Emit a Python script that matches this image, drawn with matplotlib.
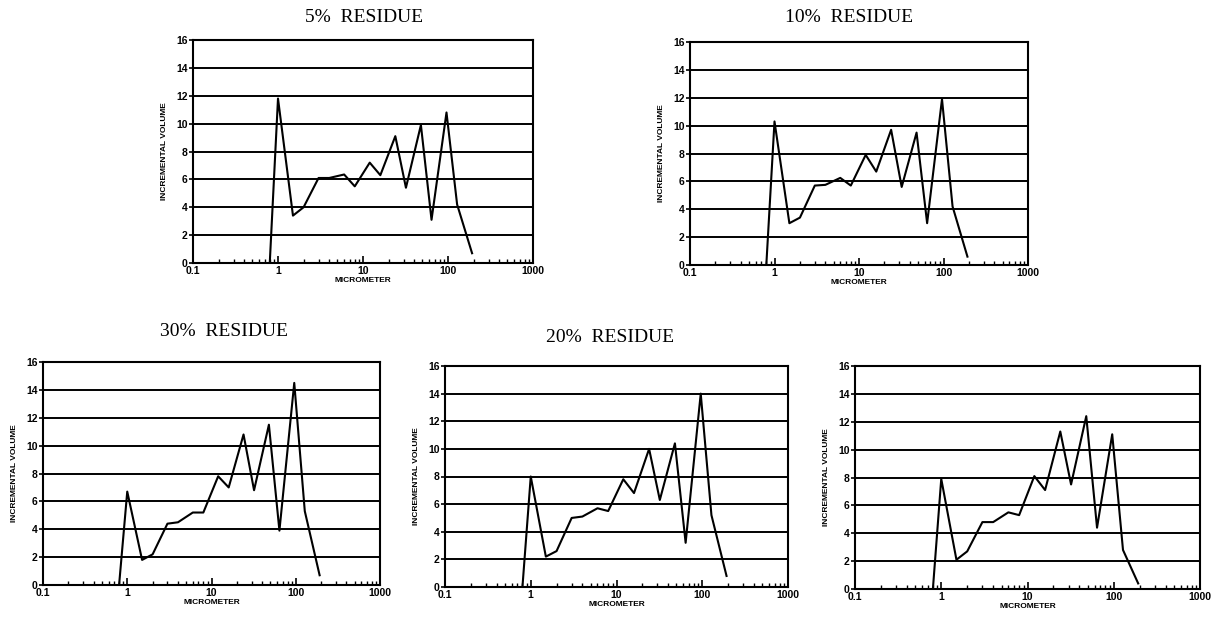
""" incremental volume vs particle size for residue fractions """

import matplotlib
matplotlib.use("Agg")
from matplotlib import pyplot as plt
from matplotlib.ticker import FixedLocator, FixedFormatter, LogLocator, NullFormatter

# particle size (micrometer)
sizes = [0.8, 1, 1.5, 2, 3, 4, 6, 8, 12, 16, 24, 32, 48, 64, 96, 128, 192]

# incremental volume per panel
residue_5 = [0, 11.8, 3.4, 4.0, 6.1, 6.1, 6.35, 5.5, 7.2, 6.3, 9.1, 5.4, 9.9, 3.1, 10.8, 4.2, 0.7]
residue_10 = [0, 10.3, 3.0, 3.4, 5.7, 5.75, 6.25, 5.7, 7.9, 6.7, 9.7, 5.6, 9.5, 3.0, 11.9, 4.2, 0.6]
residue_30 = [0, 6.7, 1.8, 2.2, 4.4, 4.5, 5.2, 5.2, 7.8, 7.0, 10.8, 6.8, 11.5, 3.9, 14.5, 5.3, 0.7]
residue_20 = [0, 8.0, 2.2, 2.6, 5.0, 5.1, 5.7, 5.5, 7.8, 6.8, 10.0, 6.3, 10.4, 3.2, 14.0, 5.2, 0.8]
residue_unlabeled = [0, 7.9, 2.1, 2.7, 4.8, 4.8, 5.5, 5.3, 8.1, 7.1, 11.3, 7.5, 12.4, 4.4, 11.1, 2.8, 0.4]

W, H = 1217, 621


def box(left, right, top, bottom):
	return [left/W, 1 - bottom/H, (right - left)/W, (bottom - top)/H]


def draw_panel(fig, rect, values):
	ax = fig.add_axes(rect)
	ax.set_xscale("log")
	ax.set_xlim(0.1, 1000)
	ax.set_ylim(0, 16)
	for y in range(2, 17, 2):
		ax.axhline(y, color="k", linewidth=1.4, zorder=1)
	ax.plot(sizes, values, color="k", linewidth=1.5, zorder=2)
	ax.xaxis.set_major_locator(FixedLocator([0.1, 1, 10, 100, 1000]))
	ax.xaxis.set_major_formatter(FixedFormatter(["0.1", "1", "10", "100", "1000"]))
	ax.xaxis.set_minor_locator(LogLocator(base=10, subs=range(2, 10)))
	ax.xaxis.set_minor_formatter(NullFormatter())
	ax.set_yticks(range(0, 17, 2))
	ax.tick_params(axis="x", which="major", direction="in", length=5, width=1.2, pad=2)
	ax.tick_params(axis="x", which="minor", direction="in", length=3, width=1)
	ax.tick_params(axis="y", direction="out", length=3, width=1.2, pad=1)
	for lab in ax.get_xticklabels() + ax.get_yticklabels():
		lab.set_fontfamily("Liberation Sans")
		lab.set_fontweight("bold")
		lab.set_fontsize(7.5)
	for s in ax.spines.values():
		s.set_linewidth(1.5)
	ax.set_xlabel("MICROMETER", fontsize=6, fontweight="bold", family="Liberation Sans", labelpad=1)
	ax.set_ylabel("INCREMENTAL VOLUME", fontsize=6, fontweight="bold", family="Liberation Sans", labelpad=6)
	return ax


fig = plt.figure(figsize=(W/100, H/100), dpi=100)

draw_panel(fig, box(193, 533, 40, 263), residue_5)
draw_panel(fig, box(690, 1028, 42, 265), residue_10)
draw_panel(fig, box(43, 380, 362, 585), residue_30)
draw_panel(fig, box(445, 788, 366, 587), residue_20)
draw_panel(fig, box(855, 1200, 366, 589), residue_unlabeled)

title_style = dict(family="Liberation Serif", fontsize=14, ha="center", va="center")
fig.text(364/W, 1 - 17/H, "5%  RESIDUE", **title_style)
fig.text(849/W, 1 - 18/H, "10%  RESIDUE", **title_style)
fig.text(224/W, 1 - 332/H, "30%  RESIDUE", **title_style)
fig.text(610/W, 1 - 337/H, "20%  RESIDUE", **title_style)

fig.savefig("out.png", dpi=100)
